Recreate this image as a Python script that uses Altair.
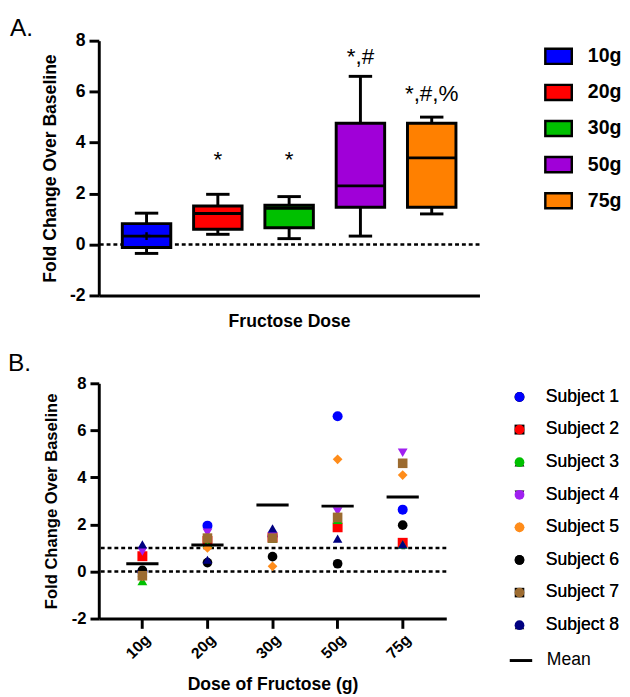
import altair as alt
import pandas as pd

FONT = "Liberation Sans"

# ---------------- Panel A data (box summaries) ----------------
doses = ["10g", "20g", "30g", "50g", "75g"]
box_colors = ["#0000FF", "#FF0000", "#00C000", "#A000D8", "#FF8000"]
box_min = [-0.35, 0.40, 0.23, 0.33, 1.20]
box_q1 = [-0.12, 0.60, 0.66, 1.46, 1.46]
box_median = [0.33, 1.22, 1.42, 2.30, 3.40]
box_q3 = [0.82, 1.51, 1.54, 4.76, 4.76]
box_max = [1.23, 1.97, 1.88, 6.60, 5.00]
box_mean_dose = ["10g"]
box_mean = [0.33]
annot_dose = ["20g", "30g", "50g", "75g"]
annot_text = ["*", "*", "*,#", "*,#,%"]
annot_y = [3.05, 3.05, 7.08, 5.65]
ref_lines_a = [0]

# ---------------- Panel B data (individual subjects) ----------------
subjects = ["Subject 1", "Subject 2", "Subject 3", "Subject 4",
            "Subject 5", "Subject 6", "Subject 7", "Subject 8"]
subject_colors = ["#0000FF", "#FF0000", "#00C000", "#A020F0",
                  "#FF8C1A", "#000000", "#9C6B30", "#000080"]
subject_shapes = ["circle", "square", "triangle-up", "triangle-down",
                  "diamond", "circle", "square", "triangle-up"]
subject_sizes = [105, 95, 130, 130, 95, 190, 210, 260]
s1_values = [0.00, 1.95, 1.50, 6.60, 2.63]
s2_values = [0.65, 1.30, 1.45, 1.88, 1.22]
s3_values = [-0.40, 1.20, 1.40, 2.20, 1.15]
s4_values = [0.85, 1.65, 1.50, 2.55, 5.05]
s5_values = [-0.20, 1.00, 0.22, 4.77, 4.10]
s6_values = [0.05, 0.38, 0.63, 0.33, 1.97]
s7_values = [-0.18, 1.42, 1.42, 2.30, 4.60]
s8_values = [1.15, 0.50, 1.83, 1.40, 1.15]
dose_means = [0.33, 1.13, 2.83, 2.78, 3.17]
ref_lines_b = [0, 1]

y_ticks = [-2, 0, 2, 4, 6, 8]
MINUS_FIX = "replace(datum.label, '\u2212', '-')"

# ---------------- tables ----------------
box_df = pd.DataFrame({"dose": doses, "lo": box_min, "q1": box_q1,
                       "med": box_median, "q3": box_q3, "hi": box_max})
mean_a_df = pd.DataFrame({"dose": box_mean_dose, "mean": box_mean})
annot_df = pd.DataFrame({"dose": annot_dose, "label": annot_text, "y": annot_y})
ref_a_df = pd.DataFrame({"y": ref_lines_a})

all_vals = [s1_values, s2_values, s3_values, s4_values,
            s5_values, s6_values, s7_values, s8_values]
rows = []
for subj, vals in zip(subjects, all_vals):
    for d, v in zip(doses, vals):
        rows.append({"subject": subj, "dose": d, "value": v})
pts_df = pd.DataFrame(rows)
mean_b_df = pd.DataFrame({"dose": doses, "mean": dose_means, "stat": ["Mean"] * 5})
ref_b_df = pd.DataFrame({"y": ref_lines_b})

# ---------------- Panel A ----------------
yscale = alt.Scale(domain=[-2, 8], nice=False, zero=False)
y_axis_a = alt.Axis(values=y_ticks, title="Fold Change Over Baseline", labelExpr=MINUS_FIX,
                    titleFontSize=18, titleFontWeight="bold", titlePadding=10,
                    labelFontSize=18, labelFontWeight="bold", labelPadding=4,
                    tickSize=10, tickWidth=3, domainWidth=3, grid=False,
                    domainColor="black", tickColor="black", labelColor="black",
                    titleColor="black")
x_a = alt.X("dose:N", sort=doses,
            scale=alt.Scale(paddingInner=0.32, paddingOuter=0.33),
            axis=alt.Axis(title="Fructose Dose", labels=False, ticks=False,
                          domainWidth=3, domainColor="black", titleFontSize=18,
                          titleFontWeight="bold", titlePadding=18, titleColor="black"))

dash_a = alt.Chart(ref_a_df).mark_rule(color="black", strokeWidth=2.5, strokeDash=[4, 3]).encode(
    y=alt.Y("y:Q", scale=yscale, axis=y_axis_a))
whisk = alt.Chart(box_df).mark_rule(color="black", strokeWidth=3).encode(
    x=x_a, y=alt.Y("lo:Q", scale=yscale, axis=y_axis_a), y2="hi:Q")
boxes = alt.Chart(box_df).mark_bar(stroke="black", strokeWidth=3, opacity=1).encode(
    x=x_a, y=alt.Y("q1:Q", scale=yscale, axis=y_axis_a), y2="q3:Q",
    color=alt.Color("dose:N", sort=doses,
                    scale=alt.Scale(domain=doses, range=box_colors),
                    legend=alt.Legend(title=None, orient="none", legendX=461, legendY=6,
                                      symbolType="M-1.75,-1L1.75,-1L1.75,1L-1.75,1Z",
                                      symbolSize=240, symbolStrokeColor="black",
                                      symbolStrokeWidth=2.5, labelFontSize=20,
                                      labelFontWeight="bold", labelOffset=20,
                                      rowPadding=11, padding=0, labelColor="black")))
med = alt.Chart(box_df).mark_tick(color="black", thickness=3, size=50, opacity=1).encode(
    x=x_a, y=alt.Y("med:Q", scale=yscale, axis=y_axis_a))
cap_lo = alt.Chart(box_df).mark_tick(color="black", thickness=3, size=24, opacity=1).encode(
    x=x_a, y=alt.Y("lo:Q", scale=yscale, axis=y_axis_a))
cap_hi = alt.Chart(box_df).mark_tick(color="black", thickness=3, size=24, opacity=1).encode(
    x=x_a, y=alt.Y("hi:Q", scale=yscale, axis=y_axis_a))
plus = alt.Chart(mean_a_df).mark_point(shape="M-1,0L1,0M0,-1L0,1", filled=False,
                                       color="black", strokeWidth=2.5, size=64, opacity=1).encode(
    x=x_a, y=alt.Y("mean:Q", scale=yscale, axis=y_axis_a))
annot = alt.Chart(annot_df).mark_text(font=FONT, fontSize=23, color="black",
                                      baseline="alphabetic", align="center").encode(
    x=x_a, y=alt.Y("y:Q", scale=yscale, axis=y_axis_a), text="label:N")

panel_a = alt.layer(dash_a, whisk, boxes, med, cap_lo, cap_hi, plus, annot).properties(
    width=390, height=261,
    title=alt.TitleParams("A.", anchor="start", frame="group", dx=-91, offset=-9,
                          fontSize=25, fontWeight="normal", font=FONT, color="black"))

# ---------------- Panel B ----------------
y_axis_b = alt.Axis(values=y_ticks, title="Fold Change Over Baseline", labelExpr=MINUS_FIX,
                    titleFontSize=17, titleFontWeight="bold", titlePadding=11,
                    labelFontSize=17, labelFontWeight="bold", labelPadding=4,
                    tickSize=9, tickWidth=3, domainWidth=3, grid=False,
                    domainColor="black", tickColor="black", labelColor="black",
                    titleColor="black")
x_b = alt.X("dose:N", sort=doses,
            scale=alt.Scale(paddingInner=0, paddingOuter=0.17),
            axis=alt.Axis(title="Dose of Fructose (g)", labelAngle=-45,
                          labelFontSize=16, labelFontWeight="bold", labelPadding=3,
                          tickSize=10, tickWidth=3, domainWidth=3,
                          domainColor="black", tickColor="black", labelColor="black",
                          titleFontSize=18, titleFontWeight="bold", titlePadding=15,
                          titleColor="black"))

subj_legend = alt.Legend(title=None, orient="none", legendX=422, legendY=5,
                         labelFontSize=18, labelFontWeight="normal", labelOffset=18,
                         rowPadding=15.4, padding=0, labelColor="black")

dash_b = alt.Chart(ref_b_df).mark_rule(color="black", strokeWidth=2.5, strokeDash=[4, 3]).encode(
    y=alt.Y("y:Q", scale=yscale, axis=y_axis_b))
means_b = alt.Chart(mean_b_df).mark_tick(thickness=3, size=33, opacity=1).encode(
    x=x_b, y=alt.Y("mean:Q", scale=yscale, axis=y_axis_b),
    color=alt.Color("stat:N", scale=alt.Scale(domain=["Mean"], range=["black"]),
                    legend=alt.Legend(title=None, orient="none", legendX=419.5, legendY=271,
                                      symbolType="stroke", symbolSize=529,
                                      symbolStrokeColor="black", symbolStrokeWidth=3,
                                      symbolOpacity=1,
                                      labelFontSize=18, labelOffset=13.5, padding=0,
                                      labelColor="black")))
points = alt.Chart(pts_df).mark_point(filled=True, opacity=1).encode(
    x=x_b, y=alt.Y("value:Q", scale=yscale, axis=y_axis_b),
    color=alt.Color("subject:N", sort=subjects,
                    scale=alt.Scale(domain=subjects, range=subject_colors), legend=subj_legend),
    shape=alt.Shape("subject:N", sort=subjects,
                    scale=alt.Scale(domain=subjects, range=subject_shapes), legend=subj_legend),
    size=alt.Size("subject:N", sort=subjects,
                  scale=alt.Scale(domain=subjects, range=subject_sizes), legend=subj_legend),
    order=alt.Order("subject:N"))

panel_b = alt.layer(dash_b, points, means_b).resolve_scale(color="independent").properties(
    width=356, height=241,
    title=alt.TitleParams("B.", anchor="start", frame="group", dx=-93, offset=-1,
                          fontSize=25, fontWeight="normal", font=FONT, color="black"))

chart = alt.vconcat(panel_a, panel_b, spacing=21).resolve_scale(
    color="independent", x="independent", y="independent",
    shape="independent", size="independent").properties(padding=0).configure(
    font=FONT).configure_view(stroke=None)

chart.save("out.html", embed_options={"renderer": "svg", "actions": False})
